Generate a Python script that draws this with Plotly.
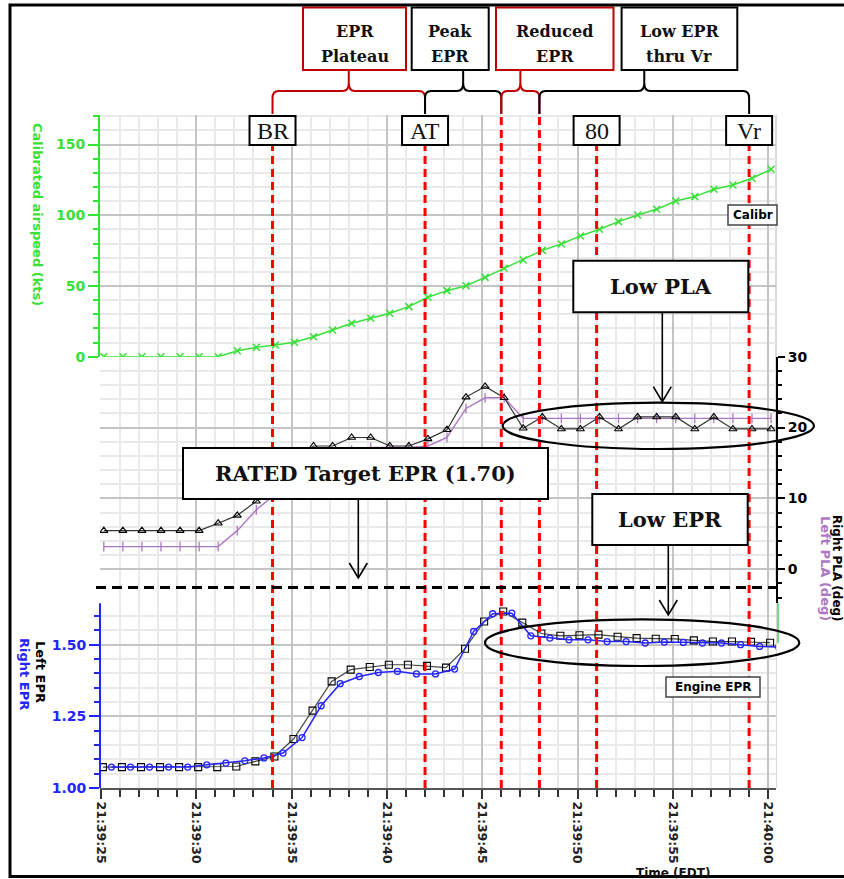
import plotly.graph_objects as go

# ---------------- data ----------------
# sample times (seconds after 21:39:00)
T_AS = [25.15, 26.15, 27.15, 28.15, 29.15, 30.15, 31.15, 32.15, 33.15, 34.15, 35.15, 36.15,
        37.15, 38.15, 39.15, 40.15, 41.15, 42.15, 43.15, 44.15, 45.15, 46.15, 47.15, 48.15,
        49.15, 50.15, 51.15, 52.15, 53.15, 54.15, 55.15, 56.15, 57.15, 58.15, 59.15, 60.15]
T_EPR_L = [25.1, 26.1, 27.1, 28.1, 29.1, 30.1, 31.1, 32.1, 33.1, 34.1, 35.1, 36.1,
           37.1, 38.1, 39.1, 40.1, 41.1, 42.1, 43.1, 44.1, 45.1, 46.1, 47.1, 48.1,
           49.1, 50.1, 51.1, 52.1, 53.1, 54.1, 55.1, 56.1, 57.1, 58.1, 59.1, 60.1]
T_EPR_R = [25.55, 26.55, 27.55, 28.55, 29.55, 30.55, 31.55, 32.55, 33.55, 34.55, 35.55, 36.55,
           37.55, 38.55, 39.55, 40.55, 41.55, 42.55, 43.55, 44.55, 45.55, 46.55, 47.55, 48.55,
           49.55, 50.55, 51.55, 52.55, 53.55, 54.55, 55.55, 56.55, 57.55, 58.55, 59.55, 60.55]

AIRSPEED = [0, 0, 0, 0, 0, 0, 0, 4.2, 6.6, 8.3, 10.2, 14.1, 18.9, 23.6, 27.2, 30.7, 35.4, 42.0,
            46.7, 50.2, 56.1, 62.5, 68.4, 75.2, 79.7, 85.4, 90.1, 95.5, 100.2, 104.2, 110.1,
            113.2, 118.4, 121.4, 126.2, 132.5]
RIGHT_PLA = [5.45, 5.45, 5.45, 5.45, 5.45, 5.45, 6.5, 7.6, 9.6, 12.5, 15.5, 17.4, 17.4, 18.6,
             18.6, 17.4, 17.4, 18.4, 19.7, 24.3, 25.8, 24.2, 19.9, 21.5, 19.8, 19.8, 21.5, 19.8,
             21.5, 21.5, 21.5, 19.8, 21.5, 19.8, 19.8, 19.8]
LEFT_PLA = [3.2, 3.2, 3.2, 3.2, 3.2, 3.2, 3.2, 5.45, 8.4, 10.6, 12.8, 14.5, 15.8, 16.8, 17.2,
            17.2, 17.2, 17.4, 18.6, 22.7, 24.2, 24.2, 21.3, 21.3, 21.3, 21.3, 21.3, 21.3, 21.3,
            21.3, 21.3, 21.3, 21.3, 21.3, 21.3, 21.3]
LEFT_EPR = [1.073, 1.073, 1.073, 1.073, 1.073, 1.073, 1.073, 1.075, 1.093, 1.110, 1.171, 1.270,
            1.372, 1.413, 1.422, 1.430, 1.430, 1.426, 1.420, 1.486, 1.581, 1.616, 1.577, 1.539,
            1.531, 1.533, 1.535, 1.528, 1.523, 1.521, 1.520, 1.515, 1.511, 1.511, 1.510, 1.507]
RIGHT_EPR = [1.073, 1.073, 1.073, 1.073, 1.073, 1.081, 1.087, 1.095, 1.105, 1.122, 1.176, 1.287,
             1.364, 1.389, 1.403, 1.407, 1.398, 1.398, 1.415, 1.546, 1.608, 1.610, 1.531, 1.523,
             1.517, 1.517, 1.511, 1.511, 1.506, 1.509, 1.508, 1.506, 1.506, 1.500, 1.494, 1.492]

XTICK_VALS = [25, 30, 35, 40, 45, 50, 55, 60]
XTICK_TEXT = ["21:39:25", "21:39:30", "21:39:35", "21:39:40", "21:39:45", "21:39:50",
              "21:39:55", "21:40:00"]

EVENT_T = [34, 42, 46, 48, 51, 59]
EVENT_LABELS = [("BR", 34), ("AT", 42), ("80", 51), ("Vr", 59)]
PHASE_TEXT = [["EPR", "Plateau"], ["Peak", "EPR"], ["Reduced", "EPR"], ["Low EPR", "thru Vr"]]
PHASE_SPAN = [(34, 42), (42, 46), (46, 48), (48, 59)]
RATED_EPR = 1.70

# ---------------- styling / geometry ----------------
W, H = 844, 879
L, R, T, B = 100, 776, 115, 788
XR = [24.95, 60.41]
GREEN = "#38e038"
BLUE = "#2424ff"
PURPLE = "#ad78c2"
DKRED = "#c00000"
MAJ = "#c4c4c4"
MIN = "#e9e9e9"
SANS = "DejaVu Sans"
SERIF = "DejaVu Serif"
TSERIF = "Liberation Serif"
PH_COL = [DKRED, "black", DKRED, "black"]
PH_BOX = [(303, 406), (411.7, 488.7), (496, 613.5), (621.6, 737.3)]


def fx(p):
    return (p - L) / (R - L)


def fy(p):
    return (B - p) / (B - T)


SPP = (XR[1] - XR[0]) / (R - L)  # seconds per pixel

AS_DOM = [fy(356.7), 1.0]
PLA_DOM = [fy(603), fy(356.7)]
EPR_TOP = 1.72
EPR_DOM = [0.0, (EPR_TOP - 1.0) * 286.6 / (B - T)]

fig = go.Figure()
fig.add_trace(go.Scatter(x=T_AS, y=AIRSPEED, yaxis="y", mode="lines+markers",
                         line=dict(color=GREEN, width=1.5),
                         marker=dict(symbol="x-thin", size=7, line=dict(color=GREEN, width=1.5))))
fig.add_trace(go.Scatter(x=T_AS, y=LEFT_PLA, yaxis="y2", mode="lines+markers",
                         line=dict(color=PURPLE, width=1.4),
                         marker=dict(symbol="line-ns", size=7, line=dict(color=PURPLE, width=1.3))))
fig.add_trace(go.Scatter(x=T_AS, y=RIGHT_PLA, yaxis="y2", mode="lines+markers",
                         line=dict(color="#333333", width=1.2),
                         marker=dict(symbol="triangle-up-open", size=7, color="black",
                                     line=dict(width=1.1))))
fig.add_trace(go.Scatter(x=T_EPR_L, y=LEFT_EPR, yaxis="y3", mode="lines+markers",
                         line=dict(color="#444444", width=1.2),
                         marker=dict(symbol="square-open", size=7, color="black",
                                     line=dict(width=1.1))))
fig.add_trace(go.Scatter(x=T_EPR_R, y=RIGHT_EPR, yaxis="y3", mode="lines+markers",
                         line=dict(color=BLUE, width=1.5),
                         marker=dict(symbol="circle-open", size=6, color=BLUE,
                                     line=dict(width=1.3))))

xfont = dict(family=SANS, size=12.5, weight="bold")
yfont = dict(family=SANS, size=14, weight="bold")

x_minor = [v for v in range(25, 61) if v % 5 != 0]
fig.update_layout(
    width=W, height=H, autosize=False,
    margin=dict(l=L, r=W - R, t=T, b=H - B, pad=0),
    paper_bgcolor="white", plot_bgcolor="white", showlegend=False,
    xaxis=dict(range=XR, domain=[0, 1], anchor="y3", tickmode="array", automargin=False,
               tickvals=XTICK_VALS, ticktext=XTICK_TEXT, tickangle=90,
               ticks="outside", ticklen=9, tickwidth=1.5, tickcolor="#333",
               showline=True, linecolor="#555", linewidth=2,
               showgrid=True, gridcolor=MAJ, gridwidth=2, zeroline=False,
               tickfont=dict(xfont, color="#222"),
               minor=dict(tickmode="array", tickvals=x_minor, ticks="outside", ticklen=7,
                          tickwidth=1.5, tickcolor="#333", showgrid=True,
                          gridcolor=MIN, gridwidth=2)),
    yaxis=dict(domain=AS_DOM, range=[0, 170.9], anchor="x", tickmode="array", automargin=False,
               tickvals=[0, 50, 100, 150], ticks="outside", ticklen=10, tickwidth=1.5,
               tickcolor=GREEN, showline=True, linecolor=GREEN, linewidth=2,
               showgrid=True, gridcolor=MAJ, gridwidth=2, zeroline=False,
               tickfont=dict(yfont, color=GREEN),
               minor=dict(tickmode="array",
                          tickvals=[10, 20, 30, 40, 60, 70, 80, 90, 110, 120, 130, 140, 160, 170],
                          ticks="outside", ticklen=5, tickwidth=1.5, tickcolor=GREEN,
                          showgrid=True, gridcolor=MIN, gridwidth=2)),
    yaxis2=dict(domain=PLA_DOM, range=[-4.76, 30], anchor="x", side="right", automargin=False,
                tickmode="array", tickvals=[0, 10, 20, 30], ticks="outside", ticklen=7,
                tickwidth=1.5, tickcolor="black", showline=True, linecolor="black",
                linewidth=2, showgrid=True, gridcolor=MAJ, gridwidth=2, zeroline=False,
                tickfont=dict(yfont, color="black"),
                minor=dict(tickmode="array",
                           tickvals=[-4, -2, 2, 4, 6, 8, 12, 14, 16, 18, 22, 24, 26, 28],
                           ticks="outside", ticklen=4, tickwidth=1.5, tickcolor="black",
                           showgrid=True, gridcolor=MIN, gridwidth=2)),
    yaxis3=dict(domain=EPR_DOM, range=[1.0, EPR_TOP], anchor="x", tickmode="array",
                automargin=False,
                tickvals=[1.0, 1.25, 1.5], ticktext=["1.00", "1.25", "1.50"],
                ticks="outside", ticklen=10, tickwidth=1.5, tickcolor=BLUE,
                showline=False, showgrid=True, gridcolor=MAJ, gridwidth=2, zeroline=False,
                tickfont=dict(yfont, color=BLUE),
                minor=dict(tickmode="array",
                           tickvals=[1.05, 1.10, 1.15, 1.20, 1.30, 1.35, 1.40, 1.45, 1.55, 1.60],
                           ticks="outside", ticklen=5, tickwidth=1.5, tickcolor=BLUE,
                           showgrid=True, gridcolor=MIN, gridwidth=2)),
)

shapes = []
# plot right border and left-over green stub
shapes.append(dict(type="line", xref="paper", yref="paper", x0=1, x1=1, y0=0, y1=1,
                   line=dict(color="#cccccc", width=1.5), layer="below"))
shapes.append(dict(type="line", xref="paper", yref="paper", x0=fx(778), x1=fx(778),
                   y0=fy(603), y1=fy(643), line=dict(color="#40d060", width=1.5)))
# EPR axis line (stops below the target line)
shapes.append(dict(type="line", xref="paper", yref="y3", x0=0, x1=0, y0=1.0, y1=1.645,
                   line=dict(color=BLUE, width=2)))
# event lines
for t in EVENT_T:
    shapes.append(dict(type="line", xref="x", yref="paper", x0=t, x1=t, y0=0, y1=1,
                       line=dict(color="#ff0000", width=3, dash="8px,5px")))
# rated target EPR line
shapes.append(dict(type="line", xref="paper", yref="y3", x0=fx(96), x1=1,
                   y0=RATED_EPR, y1=RATED_EPR,
                   line=dict(color="black", width=3, dash="10px,6px")))

# braces + phase boxes
r = 6 * SPP
ye, yc, yb, ycu, ybox = fy(114), fy(98), fy(91), fy(83), fy(70)
for (a, b), col, (bx0, bx1) in zip(PHASE_SPAN, PH_COL, PH_BOX):
    m = (a + b) / 2
    path = (f"M {a},{ye} L {a},{yc} Q {a},{yb} {a + r},{yb} L {m - r},{yb} "
            f"Q {m},{yb} {m},{ycu} Q {m},{yb} {m + r},{yb} L {b - r},{yb} "
            f"Q {b},{yb} {b},{yc} L {b},{ye} M {m},{ycu} L {m},{ybox}")
    shapes.append(dict(type="path", xref="x", yref="paper", path=path,
                       line=dict(color=col, width=2)))
    shapes.append(dict(type="rect", xref="paper", yref="paper", x0=fx(bx0), x1=fx(bx1),
                       y0=fy(70), y1=fy(7.5), fillcolor="white", line=dict(color=col, width=2)))

# event label boxes
hw = 23 * SPP
for lab, t in EVENT_LABELS:
    shapes.append(dict(type="rect", xref="x", yref="paper", x0=t - hw, x1=t + hw,
                       y0=fy(145), y1=fy(116), fillcolor="white",
                       line=dict(color="black", width=2)))

# small legend-like boxes
shapes.append(dict(type="rect", xref="paper", yref="paper", x0=fx(728), x1=fx(777),
                   y0=fy(225), y1=fy(205), fillcolor="white", line=dict(color="#444", width=1.5)))
shapes.append(dict(type="rect", xref="paper", yref="paper", x0=fx(666), x1=fx(760),
                   y0=fy(697), y1=fy(677), fillcolor="white", line=dict(color="#444", width=1.5)))

# ellipses
shapes.append(dict(type="circle", xref="paper", yref="paper", x0=fx(502.7), x1=fx(814),
                   y0=fy(449), y1=fy(402.7), line=dict(color="black", width=2.2)))
shapes.append(dict(type="circle", xref="paper", yref="paper", x0=fx(485), x1=fx(799.3),
                   y0=fy(666), y1=fy(619.3), line=dict(color="black", width=2.2)))

# callout boxes and arrows
CALLOUTS = [("Low PLA", (573.3, 260.7, 748.3, 312.3), 662.3, 401.7),
            ("RATED Target EPR (1.70)", (183, 448, 548, 499), 358.3, 578),
            ("Low EPR", (592.3, 494, 747.7, 545), 668.3, 615)]
for txt, (x0, y0, x1, y1), ax, tip in CALLOUTS:
    shapes.append(dict(type="path", xref="paper", yref="paper",
                       path=(f"M {fx(ax)},{fy(y1)} L {fx(ax)},{fy(tip)} "
                             f"M {fx(ax - 9)},{fy(tip - 15)} L {fx(ax)},{fy(tip)} "
                             f"L {fx(ax + 9)},{fy(tip - 15)}"),
                       line=dict(color="black", width=1.6)))
    shapes.append(dict(type="rect", xref="paper", yref="paper", x0=fx(x0), x1=fx(x1),
                       y0=fy(y1), y1=fy(y0), fillcolor="white",
                       line=dict(color="black", width=2)))

# outer frame
shapes.append(dict(type="rect", xref="paper", yref="paper", x0=fx(10), x1=fx(900),
                   y0=fy(876.5), y1=fy(5), line=dict(color="black", width=3)))

annotations = []


def ann(text, x, y, size, color="black", family=SANS, weight="bold", angle=0,
        xref="paper", xanchor="center"):
    annotations.append(dict(text=text, x=x, y=y, xref=xref, yref="paper", showarrow=False,
                            font=dict(family=family, size=size, color=color, weight=weight),
                            textangle=angle, xanchor=xanchor, yanchor="middle"))


for lines, (bx0, bx1) in zip(PHASE_TEXT, PH_BOX):
    cx = fx((bx0 + bx1) / 2)
    ann(lines[0], cx, fy(31), 16, color="#111", family=SERIF)
    ann(lines[1], cx, fy(56), 16, color="#111", family=SERIF)

for lab, t in EVENT_LABELS:
    ann(lab, t, fy(131), 24, color="#111", family=TSERIF, weight="normal", xref="x")

for txt, (x0, y0, x1, y1), ax, tip in CALLOUTS:
    ann(txt, fx((x0 + x1) / 2), fy((y0 + y1) / 2), 21, color="#111", family=SERIF)

ann("Calibr", fx(731), fy(215), 12, xanchor="left")
ann("Engine EPR", fx(713), fy(687), 12)
ann("Calibrated airspeed (kts)", fx(38), fy(214), 13, color=GREEN, angle=90)
ann("Left EPR", fx(41), fy(672), 13, color="black", angle=90)
ann("Right EPR", fx(25), fy(674), 13, color=BLUE, angle=90)
ann("Left PLA (deg)", fx(826), fy(568), 13, color=PURPLE, angle=90)
ann("Right PLA (deg)", fx(837), fy(568), 12, color="black", angle=90)
ann("Time (EDT)", fx(673), fy(872.5), 12, color="#111")

fig.update_layout(shapes=shapes, annotations=annotations)
fig.write_html("out.html")
